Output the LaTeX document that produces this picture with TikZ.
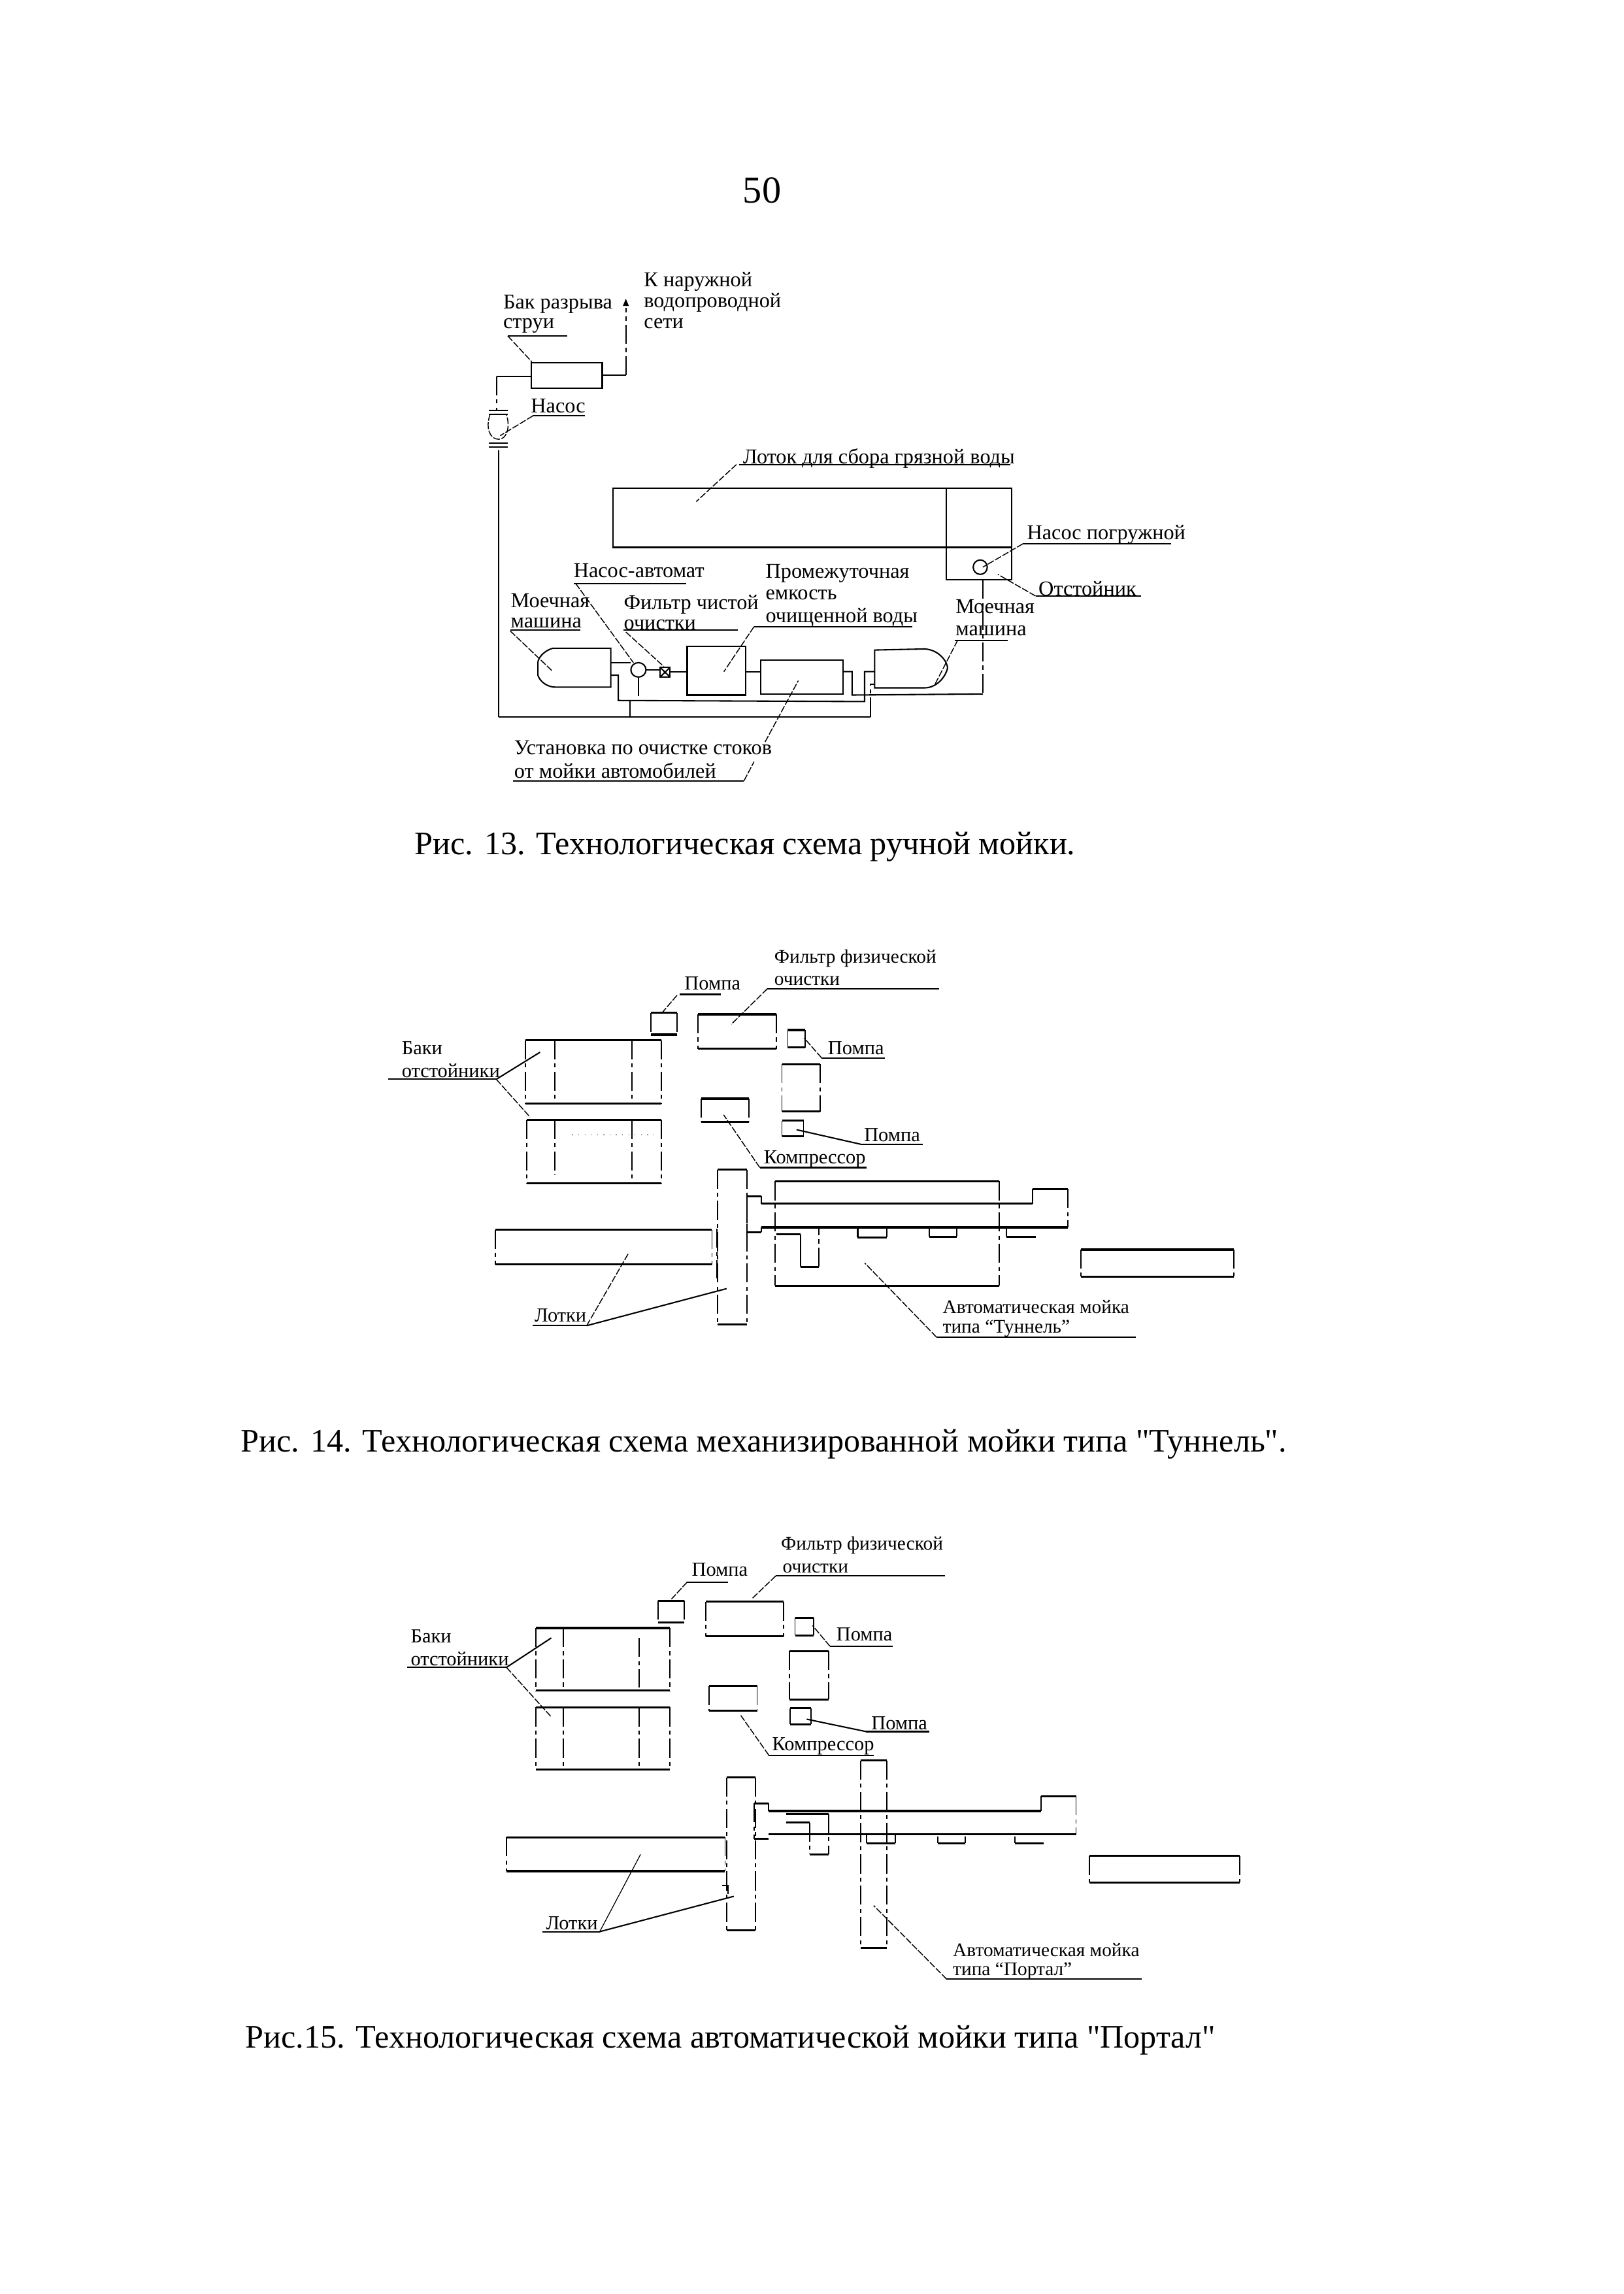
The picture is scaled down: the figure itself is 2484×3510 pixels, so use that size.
\documentclass[tikz,border=0pt]{standalone}
\usepackage{fontspec}
\newfontfamily\lib{Liberation Serif}
\tikzset{
  laba/.style={anchor=west,inner sep=0pt,font=\lib\fontsize{7.75}{10}\selectfont},
  lab/.style={anchor=west,inner sep=0pt,font=\lib\fontsize{7.3}{10}\selectfont},
  labs/.style={anchor=west,inner sep=0pt,font=\lib\fontsize{7.05}{9}\selectfont},
  captxt/.style={anchor=west,inner sep=0pt,font=\lib\fontsize{12.05}{16}\selectfont},
  hl/.style={line width=0.75pt,black},
  sl/.style={line width=0.5pt,black},
  vl/.style={line width=0.45pt,black,dash pattern=on 7pt off 1.5pt on 1.5pt off 1.5pt},
  ld/.style={line width=0.35pt,black,dash pattern=on 2.5pt off 0.6pt},
  ul/.style={line width=0.5pt,black}
}
\newcommand{\tk}[4]{\draw[hl] (#1,#2)--(#3,#2) (#1,#4)--(#3,#4);\draw[vl] (#1,#2)--(#1,#4) (#3,#2)--(#3,#4);}
\begin{document}
\begin{tikzpicture}[x=0.24pt,y=-0.24pt]
\useasboundingbox (0,0) rectangle (2484,3510);
\fill[white] (0,0) rectangle (2484,3510);
\node[anchor=center,inner sep=0pt,font=\lib\fontsize{14}{16}\selectfont] (pg) at (1166,291) {50};
\node[captxt] (c1) at (634,1296) {Рис. 13. Технологическая схема ручной мойки.};
\node[captxt] (c2) at (368,2210) {Рис. 14. Технологическая схема механизированной мойки типа "Туннель".};
\node[captxt] (c3) at (375,3122) {Рис.15. Технологическая схема автоматической мойки типа "Портал"};

% Figure 13
\begin{scope}[shift={(700,380)},x=0.1846pt,y=-0.1323pt]
\node[laba] (a1) at (370,92) {К наружной};
\node[laba] (a2) at (370,150) {водопроводной};
\node[laba] (a3) at (370,208) {сети};
\node[laba] (a4) at (90,155) {Бак разрыва};
\node[laba] (a5) at (90,215) {струи};
\draw[ul] (100,243)--(218,243);
\draw[ld] (100,243)--(148,315);
\draw[sl] (147,317) rectangle (288,388);
\draw[sl] (78,355)--(147,355);
\draw[vl] (78,355)--(78,450);
\draw[sl] (288,352)--(335,352);
\draw[vl] (335,352)--(335,165);
\fill (335,140)--(329,160)--(341,160)--cycle;
\draw[sl] (62,450)--(100,450) (62,460)--(100,460) (62,540)--(100,540) (62,552)--(100,552);
\draw[ld] (65,460) .. controls (55,500) and (65,530) .. (82,530) .. controls (100,530) and (105,490) .. (97,460);
\draw[sl] (82,560)--(82,1300);
\node[laba] (a6) at (145,437) {Насос};
\draw[ul] (150,465)--(253,465);
\draw[ld] (150,465)--(85,520);
\node[laba] (a7) at (567,583) {Лоток для сбора грязной воды};
\draw[ul] (560,600)--(1100,600);
\draw[ld] (555,600)--(475,703);
\draw[sl] (310,665) rectangle (1103,830);
\draw[sl] (973,665)--(973,920)--(1103,920)--(1103,830);
\draw[sl] (1040,885) circle [x radius=14,y radius=20];
\node[laba] (a8) at (1132,795) {Насос погружной};
\draw[ul] (1125,820)--(1420,820);
\draw[ld] (1125,820)--(1045,885);
\node[laba] (a9) at (1155,945) {Отстойник};
\draw[ul] (1150,965)--(1360,965);
\draw[ld] (1150,965)--(1075,905);
\draw[vl] (1045,920)--(1045,1235);
\draw[sl] (1045,1237)--(785,1240)--(785,1175)--(767,1175);
\node[laba] (a10) at (990,995) {Моечная};
\node[laba] (a11) at (990,1062) {машина};
\draw[ul] (990,1088)--(1095,1088);
\draw[ld] (995,1088)--(950,1210);
\draw[sl] (830,1115)--(930,1112) .. controls (960,1115) and (975,1150) .. (975,1165) .. controls (970,1195) and (950,1220) .. (930,1220)--(830,1220)--cycle;
\draw[sl] (603,1143) rectangle (767,1237);
\draw[sl] (457,1105) rectangle (573,1240);
\draw[sl] (573,1175)--(603,1175);
\draw[sl] (403,1163) rectangle (423,1190);
\draw[sl] (403,1163)--(423,1190) (403,1190)--(423,1163);
\draw[sl] (423,1175)--(457,1175);
\draw[sl] (360,1170) circle [x radius=15,y radius=20];
\draw[sl] (375,1170)--(403,1170);
\draw[sl] (305,1110)--(190,1110) .. controls (175,1115) and (160,1135) .. (160,1150)--(160,1185) .. controls (165,1205) and (180,1218) .. (195,1218)--(305,1218)--cycle;
\draw[sl] (305,1150)--(345,1150);
\draw[sl] (305,1185)--(320,1185)--(320,1255)--(810,1258)--(810,1175)--(830,1175);
\draw[vl] (360,1190)--(360,1255);
\draw[sl] (343,1255)--(343,1300);
\draw[sl] (82,1300)--(822,1300);
\draw[vl] (822,1300)--(822,1210)--(830,1210);
\node[laba] (a12) at (230,895) {Насос-автомат};
\draw[ul] (232,930)--(455,930);
\draw[ld] (235,930)--(350,1150);
\node[laba] (a13) at (612,903) {Промежуточная};
\node[laba] (a14) at (612,962) {емкость};
\node[laba] (a15) at (612,1025) {очищенной воды};
\draw[ul] (590,1050)--(905,1050);
\draw[ld] (590,1050)--(530,1175);
\node[laba] (a16) at (330,988) {Фильтр чистой};
\node[laba] (a17) at (330,1045) {очистки};
\draw[ul] (330,1060)--(558,1060);
\draw[ld] (335,1065)--(410,1160);
\node[laba] (a18) at (105,978) {Моечная};
\node[laba] (a19) at (105,1040) {машина};
\draw[ul] (105,1060)--(245,1060);
\draw[ld] (105,1062)--(190,1175);
\node[laba] (a20) at (112,1387) {Установка по очистке стоков};
\node[laba] (a21) at (112,1450) {от мойки автомобилей};
\draw[ul] (110,1478)--(570,1478);
\draw[ld] (570,1478)--(590,1425);
\draw[ld] (612,1370)--(678,1200);
\end{scope}

% Figure 14
\begin{scope}[shift={(581,1440)},x=0.2141pt,y=-0.1046pt]
\node[labs] (b1) at (676,60) {Фильтр физической};
\node[labs] (b2) at (676,140) {очистки};
\draw[ul] (665,167)--(960,167);
\draw[ld] (665,167)--(603,292);
\node[lab] (b3) at (522,148) {Помпа};
\draw[ul] (515,187)--(585,187);
\draw[ld] (510,190)--(485,250);
\tk{465}{252}{510}{328}
\tk{546}{257}{680}{378}
\tk{700}{312}{730}{373}
\node[lab] (b4) at (768,375) {Помпа};
\draw[ul] (758,410)--(866,410);
\draw[ld] (758,410)--(728,340);
\tk{690}{432}{756}{598}
\tk{690}{630}{727}{685}
\node[lab] (b5) at (830,680) {Помпа};
\draw[ul] (825,713)--(932,713);
\draw[ul] (825,713)--(715,662);
\tk{552}{553}{633}{635}
\node[lab] (b6) at (658,765) {Компрессор};
\draw[ul] (652,795)--(835,795);
\draw[ld] (652,795)--(590,610);
\tk{250}{348}{483}{570}
\draw[vl] (300,348)--(300,570) (433,348)--(433,570);
\tk{252}{628}{483}{850}
\draw[vl] (300,628)--(300,820) (433,628)--(433,850);
\draw[line width=0.3pt,dotted] (330,680)--(480,680);
\node[lab] (b7) at (37,375) {Баки};
\node[lab] (b8) at (37,455) {отстойники};
\draw[ul] (15,485)--(200,485);
\draw[ul] (200,485)--(275,390);
\draw[ld] (200,485)--(258,618);
\tk{580}{802}{630}{1345}
\tk{198}{1013}{570}{1135}
\draw[vl] (578,1010)--(578,1185);
\tk{678}{843}{1063}{1210}
\draw[hl] (630,895)--(655,895) (655,922)--(1120,922) (1120,870)--(1180,870) (1180,1005)--(655,1005) (655,1022)--(630,1022);
\draw[sl] (655,895)--(655,922) (1120,870)--(1120,922) (655,1005)--(655,1022);
\draw[vl] (1180,870)--(1180,1005) (630,895)--(630,1022);
\draw[sl] (820,1010)--(820,1040);
\draw[hl] (820,1040)--(870,1040);
\draw[sl] (870,1040)--(870,1010);
\draw[sl] (943,1010)--(943,1038);
\draw[hl] (943,1038)--(990,1038);
\draw[sl] (990,1038)--(990,1010);
\draw[sl] (1075,1010)--(1075,1038);
\draw[hl] (1075,1038)--(1125,1038);
\draw[hl] (680,1030)--(722,1030);
\draw[sl] (722,1030)--(722,1143);
\draw[hl] (722,1143)--(753,1143);
\draw[vl] (753,1143)--(753,1005);
\tk{1203}{1083}{1465}{1178}
\node[lab] (b9) at (265,1315) {Лотки};
\draw[ul] (262,1350)--(355,1350);
\draw[ld] (355,1350)--(427,1095);
\draw[ul] (355,1350)--(595,1220);
\node[labs] (b10) at (965,1285) {Автоматическая мойка};
\node[labs] (b11) at (965,1360) {типа “Туннель”};
\draw[ul] (955,1390)--(1297,1390);
\draw[ld] (955,1390)--(832,1130);
\end{scope}

% Figure 15
\begin{scope}[shift={(601,2340)},x=0.2141pt,y=-0.1139pt]
\node[labs] (d1) at (665,52) {Фильтр физической};
\node[labs] (d2) at (668,125) {очистки};
\draw[ul] (657,150)--(947,150);
\draw[ld] (657,150)--(617,222);
\node[lab] (d3) at (512,130) {Помпа};
\draw[ul] (505,170)--(575,170);
\draw[ld] (505,170)--(478,225);
\tk{455}{230}{500}{300}
\tk{537}{233}{670}{345}
\tk{690}{285}{722}{342}
\node[lab] (d4) at (760,338) {Помпа};
\draw[ul] (750,377)--(858,377);
\draw[ld] (750,377)--(720,310);
\tk{680}{392}{748}{548}
\tk{682}{577}{717}{628}
\node[lab] (d5) at (820,625) {Помпа};
\draw[ul] (812,652)--(920,652);
\draw[ul] (812,652)--(710,612);
\tk{543}{505}{625}{585}
\node[lab] (d6) at (650,700) {Компрессор};
\draw[ul] (645,728)--(825,728);
\draw[ld] (645,728)--(597,600);
\tk{245}{318}{475}{520}
\draw[vl] (293,318)--(293,510) (423,350)--(423,510);
\tk{245}{574}{475}{775}
\draw[vl] (293,574)--(293,765) (423,574)--(423,765);
\node[lab] (d7) at (30,345) {Баки};
\node[lab] (d8) at (30,418) {отстойники};
\draw[ul] (25,445)--(195,445);
\draw[ul] (195,445)--(272,350);
\draw[ld] (195,445)--(272,605);
\tk{573}{800}{622}{1293}
\tk{803}{745}{847}{1350}
\tk{195}{993}{570}{1102}
\draw[hl] (620,883)--(645,883) (645,908)--(1112,908) (1112,860)--(1172,860) (1172,982)--(645,982) (645,998)--(620,998);
\draw[sl] (645,883)--(645,908) (1112,860)--(1112,908);
\draw[vl] (1172,860)--(1172,982) (620,883)--(620,998);
\draw[hl] (675,918)--(748,918) (675,945)--(715,945);
\draw[vl] (715,945)--(715,1048) (748,918)--(748,1048);
\draw[hl] (715,1048)--(748,1048);
\draw[sl] (813,985)--(813,1012) (862,985)--(862,1012) (935,990)--(935,1012) (982,990)--(982,1012) (1067,990)--(1067,1012);
\draw[hl] (813,1012)--(862,1012) (935,1012)--(982,1012) (1067,1012)--(1117,1012);
\draw[sl] (565,1148)--(575,1148)--(575,1175);
\tk{1195}{1053}{1453}{1138}
\node[lab] (d9) at (262,1270) {Лотки};
\draw[ul] (257,1297)--(355,1297);
\draw[line width=0.3pt] (355,1297)--(425,1048);
\draw[ul] (355,1297)--(585,1183);
\node[labs] (d10) at (960,1355) {Автоматическая мойка};
\node[labs] (d11) at (960,1425) {типа “Портал”};
\draw[ul] (950,1450)--(1285,1450);
\draw[ld] (950,1450)--(825,1213);
\end{scope}
\end{tikzpicture}
\end{document}
